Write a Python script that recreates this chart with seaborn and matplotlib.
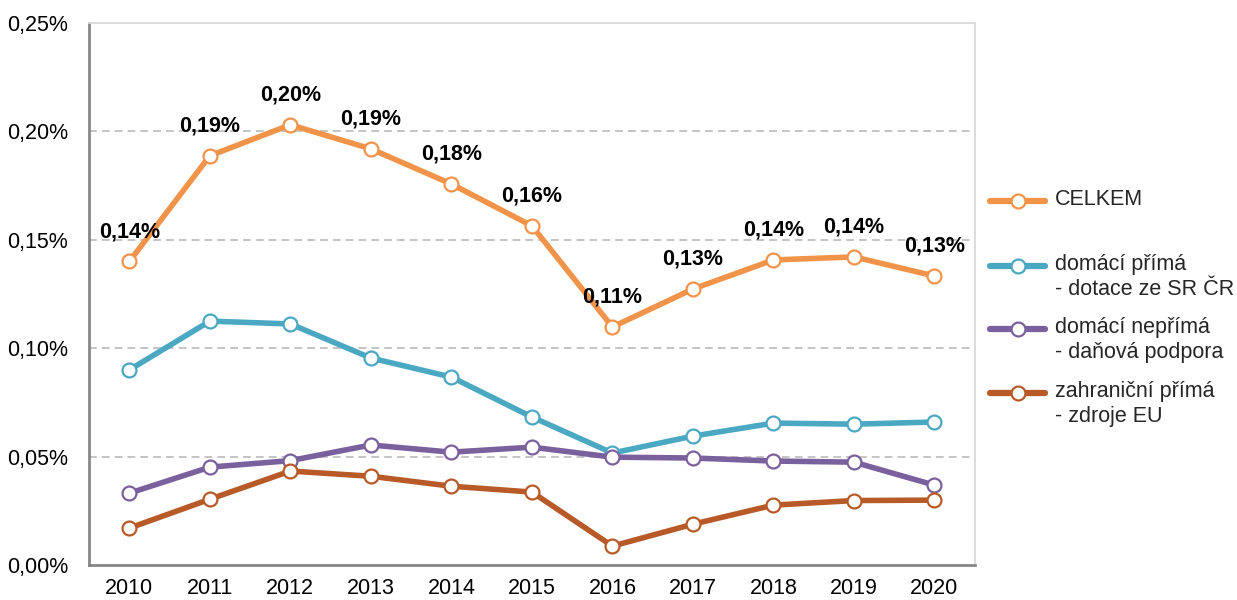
import matplotlib
matplotlib.use("Agg")
import matplotlib.pyplot as plt
from matplotlib.lines import Line2D
from matplotlib.ticker import FixedLocator, FuncFormatter
import seaborn as sns
import pandas as pd

# data (share of GDP, %)
years = [2010, 2011, 2012, 2013, 2014, 2015, 2016, 2017, 2018, 2019, 2020]
celkem = [0.140, 0.1887, 0.2030, 0.1919, 0.1757, 0.1564, 0.1098, 0.1273, 0.1407, 0.1421, 0.1333]
domaci_prima = [0.0900, 0.1125, 0.1112, 0.0955, 0.0867, 0.0683, 0.0517, 0.0595, 0.0655, 0.0650, 0.0660]
domaci_neprima = [0.0332, 0.0452, 0.0482, 0.0554, 0.0521, 0.0544, 0.0498, 0.0494, 0.0480, 0.0475, 0.0369]
zahranicni = [0.0171, 0.0304, 0.0434, 0.0410, 0.0364, 0.0337, 0.0088, 0.0189, 0.0277, 0.0298, 0.0300]
celkem_labels = ["0,14%", "0,19%", "0,20%", "0,19%", "0,18%", "0,16%", "0,11%", "0,13%", "0,14%", "0,14%", "0,13%"]

series_names = ["CELKEM", "domácí přímá\n- dotace ze SR ČR",
                "domácí nepřímá\n- daňová podpora", "zahraniční přímá\n- zdroje EU"]
colors = ["#F2934A", "#4BA8C2", "#7B609E", "#B85A28"]

df = pd.DataFrame({
    "rok": years * 4,
    "hodnota": celkem + domaci_prima + domaci_neprima + zahranicni,
    "serie": sum([[n] * len(years) for n in series_names], []),
})

sns.set_style("white")
plt.rcParams["font.family"] = ["Liberation Sans", "DejaVu Sans"]
FS = 15.5

fig = plt.figure(figsize=(12.37, 6), dpi=100)
ax = fig.add_axes([0.072, 0.058, 0.716, 0.904])

for name, col in zip(series_names, colors):
    sns.lineplot(data=df[df["serie"] == name], x="rok", y="hodnota", ax=ax,
                 color=col, linewidth=4, marker="o", markersize=10,
                 markerfacecolor="white", markeredgecolor=col, markeredgewidth=1.6,
                 legend=False, zorder=3)

for x, y, t in zip(years, celkem, celkem_labels):
    ax.annotate(t, (x, y), xytext=(0, 21.5), textcoords="offset points",
                ha="center", va="center", fontsize=15.5, fontweight="bold", color="black")

ax.set_xlim(2009.5, 2020.5)
ax.set_ylim(0, 0.25)
ax.set_xlabel("")
ax.set_ylabel("")

ax.set_xticks(years)
ax.set_xticklabels([str(y) for y in years])
ax.xaxis.set_minor_locator(FixedLocator([y - 0.5 for y in years] + [2020.5]))
ax.tick_params(axis="x", which="major", length=0, labelsize=FS, pad=9, colors="black")
ax.tick_params(axis="x", which="minor", length=6, width=1.5, color="#868686", direction="out")

ax.set_yticks([0, 0.05, 0.10, 0.15, 0.20, 0.25])
ax.yaxis.set_major_formatter(FuncFormatter(lambda v, p: f"{v:.2f}%".replace(".", ",")))
ax.tick_params(axis="y", length=6, width=1.5, color="#868686", direction="out",
               labelsize=FS, pad=9, labelcolor="black")

for v in [0.05, 0.10, 0.15, 0.20]:
    ax.axhline(v, color="#C4C4C4", linewidth=1.4, linestyle=(0, (4, 2.6)), zorder=1)

for side in ["left", "bottom"]:
    ax.spines[side].set_color("#868686")
    ax.spines[side].set_linewidth(2)
for side in ["top", "right"]:
    ax.spines[side].set_color("#D9D9D9")
    ax.spines[side].set_linewidth(1.3)

# legend drawn at the right, handle aligned with the first text line
leg_y = [201, 266, 329, 393]
for name, col, yp in zip(series_names, colors, leg_y):
    yf = 1 - yp / 600
    fig.add_artist(Line2D([990 / 1237, 1045 / 1237], [yf, yf], color=col, linewidth=4.5,
                          transform=fig.transFigure))
    fig.add_artist(Line2D([1018 / 1237], [yf], marker="o", markersize=10,
                          markerfacecolor="white", markeredgecolor=col, markeredgewidth=1.6,
                          transform=fig.transFigure))
    fig.text(1055 / 1237, yf + 12 / 600, name, ha="left", va="top", fontsize=FS,
             linespacing=1.22, transform=fig.transFigure)

fig.savefig("out.png", dpi=100, facecolor="white")
